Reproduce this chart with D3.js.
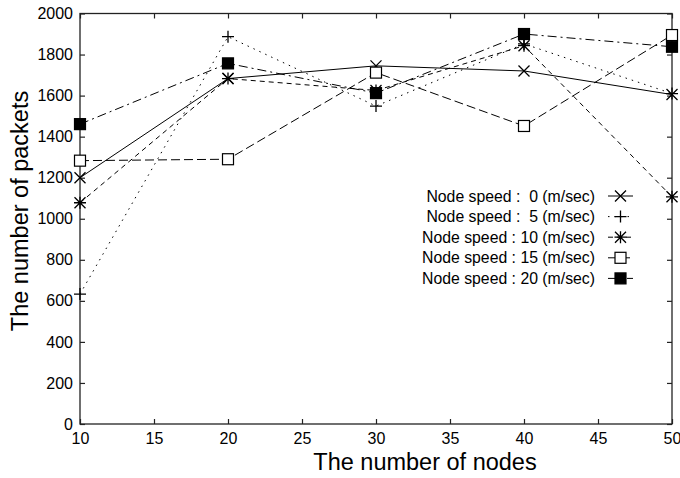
<!DOCTYPE html>
<html><head><meta charset="utf-8">
<script src="https://cdn.jsdelivr.net/npm/d3@7"></script>
<style>
html,body{margin:0;padding:0;background:#fff;}
svg{display:block;font-family:"Liberation Sans",Arial,Helvetica,sans-serif;}
</style></head>
<body>
<svg id="chart" width="680" height="478"></svg>
<script>
const nodes = [10, 20, 30, 40, 50];
const speed0  = [1200, 1683, 1745, 1720, 1605];
const speed5  = [633, 1887, 1549, 1852, 1610];
const speed10 = [1078, 1683, 1625, 1843, 1107];
const speed15 = [1283, 1290, 1712, 1452, 1895];
const speed20 = [1461, 1757, 1612, 1900, 1838];
const seriesNames = ["Node speed :  0 (m/sec)", "Node speed :  5 (m/sec)", "Node speed : 10 (m/sec)", "Node speed : 15 (m/sec)", "Node speed : 20 (m/sec)"];
const xTicks = [10, 15, 20, 25, 30, 35, 40, 45, 50];
const yTicks = [0, 200, 400, 600, 800, 1000, 1200, 1400, 1600, 1800, 2000];
const xTitle = "The number of nodes";
const yTitle = "The number of packets";

const series = [
  {name: seriesNames[0], values: speed0,  dash: null,        marker: "x"},
  {name: seriesNames[1], values: speed5,  dash: "1.5,5",     marker: "plus"},
  {name: seriesNames[2], values: speed10, dash: "5,4",       marker: "star"},
  {name: seriesNames[3], values: speed15, dash: "9,4",       marker: "sq"},
  {name: seriesNames[4], values: speed20, dash: "9,4,2,4",   marker: "fsq"}
];

const svg = d3.select("#chart");
const L = 80, R = 672, T = 13.5, B = 424;
const x = d3.scaleLinear().domain([10, 50]).range([L, R]);
const y = d3.scaleLinear().domain([0, 2000]).range([B, T]);

// frame
svg.append("rect").attr("x", L).attr("y", T).attr("width", R - L).attr("height", B - T)
  .attr("fill", "none").attr("stroke", "#222").attr("stroke-width", 1.3);

// axes (inward ticks, mirrored)
const tk = 5;
const gx = svg.append("g").attr("transform", `translate(0,${B})`)
  .call(d3.axisBottom(x).tickValues(xTicks).tickSize(-tk).tickPadding(9).tickFormat(d3.format("d")));
const gxt = svg.append("g").attr("transform", `translate(0,${T})`)
  .call(d3.axisTop(x).tickValues(xTicks).tickSize(-tk).tickFormat(""));
const gy = svg.append("g").attr("transform", `translate(${L},0)`)
  .call(d3.axisLeft(y).tickValues(yTicks).tickSize(-tk).tickPadding(7).tickFormat(d3.format("d")));
const gyr = svg.append("g").attr("transform", `translate(${R},0)`)
  .call(d3.axisRight(y).tickValues(yTicks).tickSize(-tk).tickFormat(""));
[gx, gxt, gy, gyr].forEach(g => {
  g.select(".domain").remove();
  g.selectAll(".tick line").attr("stroke", "#222").attr("stroke-width", 1.2);
  g.selectAll("text").attr("fill", "#000").style("font-size", "16px")
    .style("font-family", '"Liberation Sans",Arial,Helvetica,sans-serif');
});

// titles
svg.append("text").attr("x", 425).attr("y", 470).attr("text-anchor", "middle")
  .style("font-size", "23.5px").attr("fill", "#000").text(xTitle);
svg.append("text").attr("transform", "translate(28,211) rotate(-90)").attr("text-anchor", "middle")
  .style("font-size", "23.5px").attr("fill", "#000").text(yTitle);

function drawMarker(g, type, cx, cy) {
  const s = 5.5;
  if (type === "x") {
    g.append("path").attr("d", `M${cx-s},${cy-s}L${cx+s},${cy+s}M${cx-s},${cy+s}L${cx+s},${cy-s}`)
      .attr("stroke", "#000").attr("stroke-width", 1.3).attr("fill", "none");
  } else if (type === "plus") {
    g.append("path").attr("d", `M${cx-s-0.5},${cy}L${cx+s+0.5},${cy}M${cx},${cy-s-0.5}L${cx},${cy+s+0.5}`)
      .attr("stroke", "#000").attr("stroke-width", 1.3).attr("fill", "none");
  } else if (type === "star") {
    g.append("path").attr("d", `M${cx-s},${cy-s}L${cx+s},${cy+s}M${cx-s},${cy+s}L${cx+s},${cy-s}M${cx-s-0.5},${cy}L${cx+s+0.5},${cy}M${cx},${cy-s-0.5}L${cx},${cy+s+0.5}`)
      .attr("stroke", "#000").attr("stroke-width", 1.3).attr("fill", "none");
  } else if (type === "sq" || type === "fsq") {
    g.append("rect").attr("x", cx - 5.5).attr("y", cy - 5.5).attr("width", 11).attr("height", 11)
      .attr("fill", type === "fsq" ? "#000" : "#fff").attr("stroke", "#000").attr("stroke-width", 1.2);
  }
}

const line = d3.line().x((d, i) => x(nodes[i])).y(d => y(d));
series.forEach(s => {
  svg.append("path").datum(s.values).attr("d", line)
    .attr("fill", "none").attr("stroke", "#000").attr("stroke-width", 1)
    .attr("stroke-dasharray", s.dash);
});
series.forEach(s => {
  const g = svg.append("g");
  s.values.forEach((v, i) => drawMarker(g, s.marker, x(nodes[i]), y(v)));
});

// legend
const legX = 595, ly0 = 196, ldy = 20.6;
series.forEach((s, i) => {
  const yy = ly0 + i * ldy;
  svg.append("text").attr("x", legX).attr("y", yy).attr("dy", "0.35em").attr("text-anchor", "end")
    .style("font-size", "15.8px").style("white-space", "pre").attr("fill", "#000").text(s.name);
  svg.append("line").attr("x1", 608).attr("x2", 633).attr("y1", yy).attr("y2", yy)
    .attr("stroke", "#000").attr("stroke-width", 1).attr("stroke-dasharray", s.dash);
  drawMarker(svg, s.marker, 620.5, yy);
});
</script>
</body></html>
